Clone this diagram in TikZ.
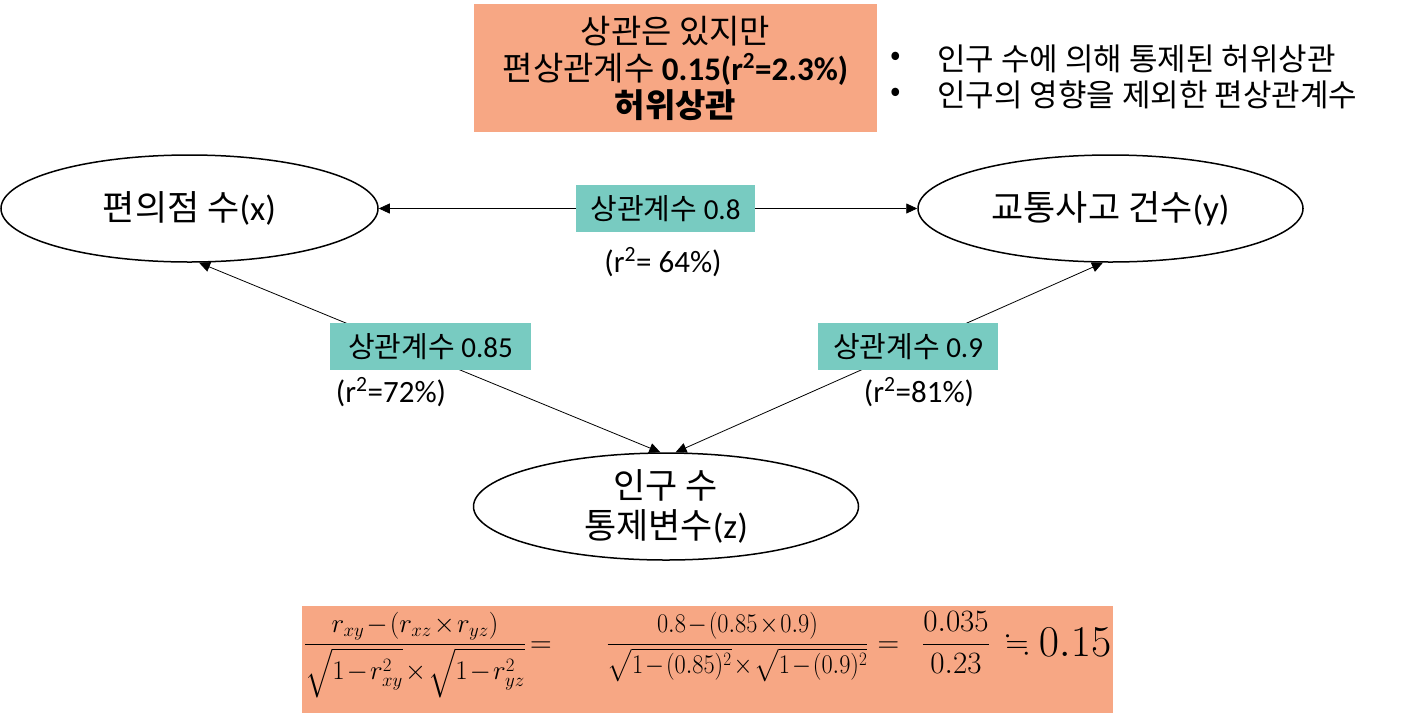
\RequirePackage{fix-cm}
\documentclass[tikz,border=0pt]{standalone}
\usepackage{amsmath,amssymb}
\usepackage{graphicx}
\usepackage[no-math]{fontspec}
\setmainfont{Noto Sans CJK KR}
\newfontfamily\lat{Carlito}
\usetikzlibrary{arrows.meta,shapes.geometric}
\definecolor{salmon}{HTML}{F7A784}
\definecolor{tealbox}{HTML}{78CBC1}
\begin{document}
\begin{tikzpicture}[x=1pt,y=-1pt,
  ell/.style={draw, line width=1.5pt, ellipse, inner sep=0pt, minimum height=107pt, align=center, font=\fontsize{35}{40}\selectfont},
  tbox/.style={fill=tealbox, inner sep=0pt, minimum height=47pt, font=\fontsize{29}{32}\selectfont},
  rlab/.style={inner sep=0pt, font=\lat\fontsize{31}{34}\selectfont},
  arr/.style={{Triangle[length=11pt,width=10pt]}-{Triangle[length=11pt,width=10pt]}, line width=0.8pt},
  bul/.style={inner sep=0pt, font=\fontsize{31}{34}\selectfont},
  fm/.style={inner sep=0pt, anchor=base, font=\fontsize{27}{30}\selectfont}
]
\path[use as bounding box] (0,0) rectangle (1404,713);

% top box
\node[fill=salmon, minimum width=403pt, minimum height=128pt, inner sep=0pt, align=center,
      font=\fontsize{33}{37}\selectfont] (top) at (675.5,68)
  {상관은 있지만\\편상관계수 {\lat\bfseries 0.15(r\textsuperscript{2}=2.3\%)}\\{\bfseries 허위상관}};

% bullets
\node[bul] (b1) at (896,59) {•};
\node[bul, anchor=west] (t1) at (937,59) {인구 수에 의해 통제된 허위상관};
\node[bul] (b2) at (896,95) {•};
\node[bul, anchor=west] (t2) at (937,95) {인구의 영향을 제외한 편상관계수};

% ellipses
\node[ell, minimum width=377pt] (L) at (189.5,208.5) {편의점 수{\lat (x)}};
\node[ell, minimum width=385pt] (R) at (1110.5,208.5) {교통사고 건수{\lat (y)}};
\node[ell, minimum width=385pt] (Z) at (666,506.5) {인구 수\\통제변수{\lat (z)}};

% connectors
\draw[arr] (L.east) -- (R.west);
\draw[arr] (Z.96) -- (L.-80);
\draw[arr] (Z.80) -- (R.-98);

% teal labels
\node[tbox, minimum width=179pt] (c1) at (665.5,208.5) {상관계수 {\lat 0.8}};
\node[tbox, minimum width=201pt] (c2) at (430.5,346.5) {상관계수 {\lat 0.85}};
\node[tbox, minimum width=180pt] (c3) at (908,346.5) {상관계수 {\lat 0.9}};

% r^2 labels
\node[rlab] (r1) at (663,262) {(r\textsuperscript{2}= 64\%)};
\node[rlab] (r2) at (391,392) {(r\textsuperscript{2}=72\%)};
\node[rlab] (r3) at (919,392) {(r\textsuperscript{2}=81\%)};

% formula
\node[fill=salmon, minimum width=811pt, minimum height=107pt, inner sep=0pt] (fbox) at (707.5,659.5) {};
\node[fm] (f1) at (415,651)
  {$\medmuskip=1.5mu\displaystyle \frac{r_{xy}-(r_{xz}\times r_{yz})}{\sqrt{1-r_{xy}^2}\times\sqrt{1-r_{yz}^2}}$};
\node[fm, font=\fontsize{30}{30}\selectfont] (e1) at (541,652) {$=$};
\node[fm] (f2) at (737.5,651)
  {\scalebox{0.9}[1]{$\medmuskip=1.5mu\displaystyle \frac{0.8-(0.85\times 0.9)}{\sqrt{1-(0.85)^2}\times\sqrt{1-(0.9)^2}}$}};
\node[fm, font=\fontsize{30}{30}\selectfont] (e2) at (888.5,652) {$=$};
\node[fm, font=\fontsize{31}{31}\selectfont] (f3) at (956,652) {$\displaystyle\frac{0.035}{0.23}$};
\node[fm, font=\fontsize{30}{30}\selectfont] (ap) at (1017,652) {$\fallingdotseq$};
\node[fm, font=\fontsize{44}{44}\selectfont] (val) at (1075,656) {$0.15$};
\end{tikzpicture}
\end{document}
